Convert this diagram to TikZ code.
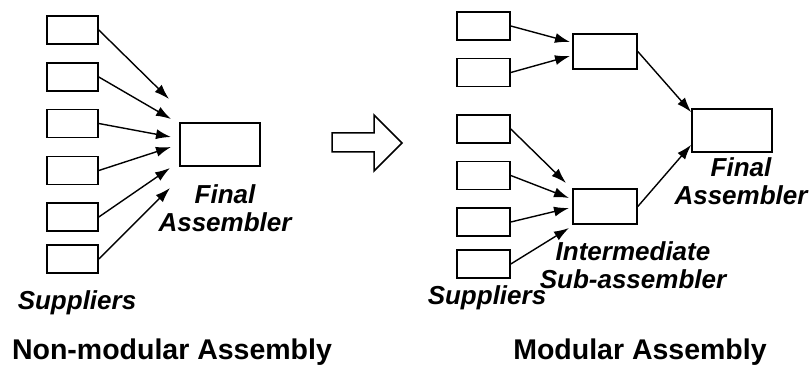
\documentclass[tikz,border=0pt]{standalone}
\usepackage{fontspec}
\setmainfont{Liberation Sans}
\usetikzlibrary{arrows.meta,calc}

\tikzset{
  box/.style={draw, line width=1.6pt, rectangle, inner sep=0pt},
  supbox/.style={box, minimum width=51pt, minimum height=28pt},
  rsupbox/.style={box, minimum width=53pt, minimum height=28pt},
  bigbox/.style={box, minimum width=80pt, minimum height=43pt},
  subbox/.style={box, minimum width=64pt, minimum height=35pt},
  feed/.style={line width=1.4pt, -{Latex[length=15pt,width=10pt]}},
  lbl/.style={font=\fontsize{26}{28.5}\selectfont\bfseries\itshape, inner sep=0pt, align=center, anchor=north},
  ttl/.style={font=\fontsize{28.5}{32}\selectfont\bfseries, inner sep=0pt, anchor=north},
}

\begin{document}
\begin{tikzpicture}[x=1pt, y=-1pt]
\useasboundingbox (0,0) rectangle (812,366);

% ---- non-modular assembly: six suppliers feed the final assembler
\foreach \i/\y in {1/30, 2/77, 3/123.5, 4/170.5, 5/217, 6/259}
  \node[supbox] (ls\i) at (72.5,\y) {};
\node[bigbox] (lf) at (220,144.5) {};
\foreach \i/\x/\y in {1/169/99, 2/171/119, 3/171/137, 4/171/147, 5/170/168, 6/170/188}
  \coordinate (lt\i) at (\x,\y);
\foreach \i in {1,...,6}
  \draw[feed] (ls\i.east) -- (lt\i);

\node[lbl] (lfl) at (225,184) {Final\\Assembler};
\node[lbl] (lsl) at (77,290) {Suppliers};
\node[ttl] (lttl) at (172,338.5) {Non-modular Assembly};

% ---- block arrow between the two schemes
\draw[line width=1.5pt, line join=miter] (332,133) -- (374,133) -- (374,115) -- (402,143)
  -- (374,171) -- (374,152) -- (332,152) -- cycle;

% ---- modular assembly: suppliers feed two sub-assemblers, which feed the final assembler
\foreach \i/\y in {1/26, 2/72.5, 3/129, 4/175.5, 5/222, 6/264}
  \node[rsupbox] (rs\i) at (483.5,\y) {};
\node[subbox] (sa) at (605,51.5) {};
\node[subbox] (sb) at (605,206.5) {};
\node[bigbox] (rf) at (732,130.5) {};

\foreach \i/\x/\y in {1/570/42, 2/570/56, 3/566/183, 4/569/198, 5/569/208, 6/569/228}
  \coordinate (rt\i) at (\x,\y);
\foreach \i in {1,...,6}
  \draw[feed] (rs\i.east) -- (rt\i);

\coordinate (fa) at ($(rf.north west)+(0,4)$);
\coordinate (fb) at ($(rf.south west)+(0,-8)$);
\draw[feed] (sa.east) -- (fa);
\draw[feed] (sb.east) -- (fb);

\node[lbl] (rfl) at (741,157) {Final\\Assembler};
\node[lbl] (sbl) at (633,241) {Intermediate\\Sub-assembler};
\node[lbl] (rsl) at (487,285) {Suppliers};
\node[ttl] (rttl) at (640,338.5) {Modular Assembly};
\end{tikzpicture}
\end{document}
